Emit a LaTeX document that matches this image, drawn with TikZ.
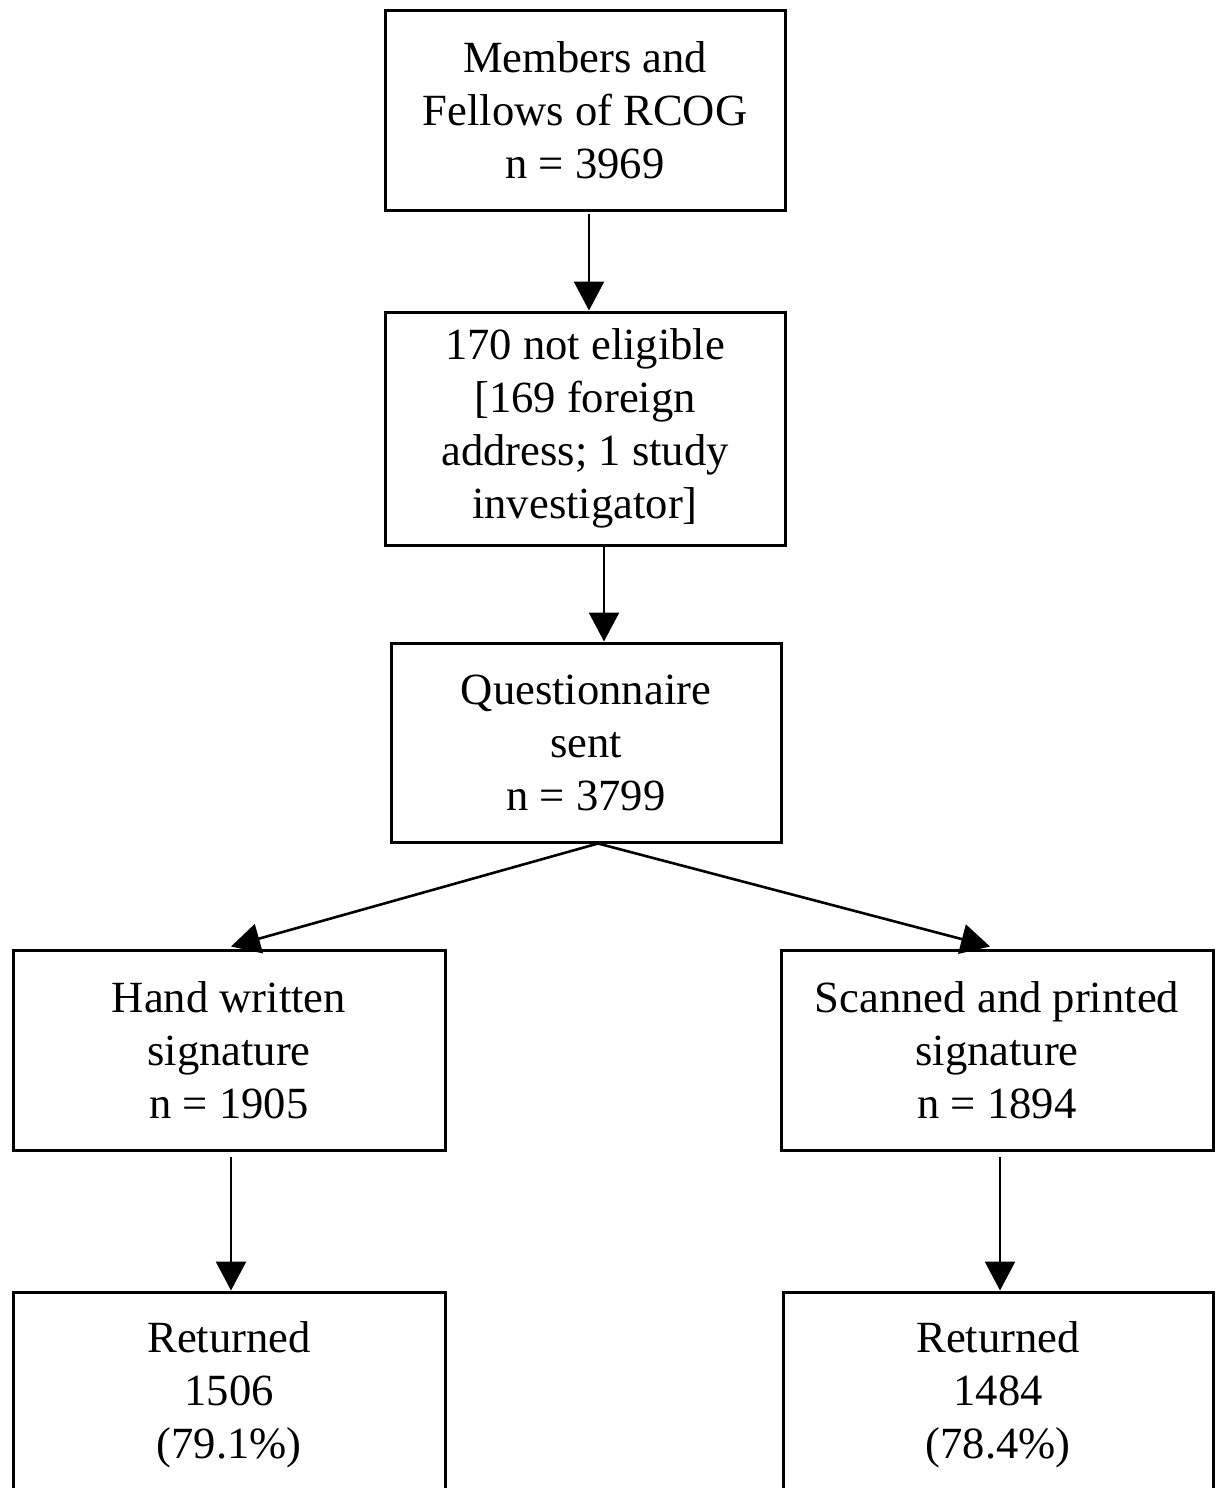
\documentclass[tikz,border=0pt]{standalone}
\usepackage{fontspec}
\setmainfont{Liberation Serif}
\usetikzlibrary{arrows.meta}
\begin{document}
\begin{tikzpicture}[x=0.5pt,y=-0.5pt,
  box/.style={draw,line width=1.5pt,align=center,inner sep=0pt,font=\fontsize{22.3}{26.5}\selectfont},
  arr/.style={line width=1.3pt,-{Triangle[length=14.5pt,width=15pt]}}]
\clip (0,0) rectangle (1216,1488);
\fill[white] (0,0) rectangle (1216,1488);
\node[box,minimum width=200pt,minimum height=100pt] (m) at (585,110) {Members and\\Fellows of RCOG\\n = 3969};
\node[box,minimum width=200pt,minimum height=116.5pt] (n) at (585,428.5) {170 not eligible\\{[}169 foreign\\address; 1 study\\investigator{]}};
\node[box,minimum width=195pt,minimum height=99.5pt] (q) at (586,742.5) {Questionnaire\\sent\\n = 3799};
\node[box,minimum width=216pt,minimum height=100pt] (h) at (229,1050) {Hand written\\signature\\n = 1905};
\node[box,minimum width=216pt,minimum height=100pt] (s) at (997,1050) {Scanned and printed\\signature\\n = 1894};
\node[box,minimum width=216pt,minimum height=103pt] (r1) at (229,1395) {Returned\\1506\\(79.1\%)};
\node[box,minimum width=215pt,minimum height=103pt] (r2) at (998,1395) {Returned\\1484\\(78.4\%)};
\draw[arr] ([shift={(2pt,-1pt)}]m.south) -- ([xshift=2pt]n.north);
\draw[arr] ([xshift=9.5pt]n.south) -- ([xshift=9pt]q.north);
\draw[arr] ([xshift=6pt]q.south) -- ([shift={(1pt,1pt)}]h.north);
\draw[arr] ([xshift=6pt]q.south) -- ([shift={(-3.5pt,1pt)}]s.north);
\draw[arr] ([shift={(1pt,-2.5pt)}]h.south) -- ([xshift=1pt]r1.north);
\draw[arr] ([shift={(1.5pt,-2.5pt)}]s.south) -- ([xshift=1pt]r2.north);
\end{tikzpicture}
\end{document}
